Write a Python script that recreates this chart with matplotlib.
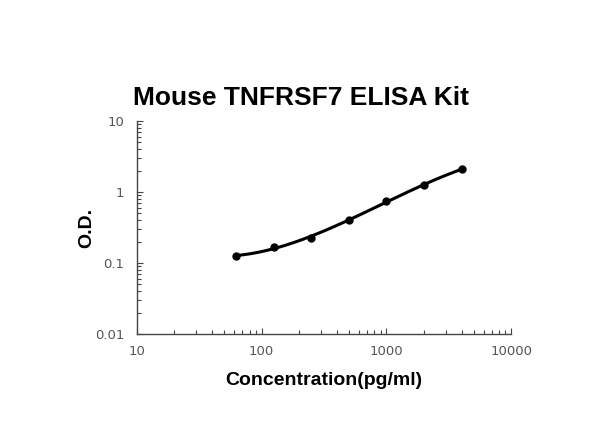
import numpy as np
import matplotlib
matplotlib.use("Agg")
import matplotlib.pyplot as plt
from matplotlib.ticker import LogLocator, FixedLocator, NullFormatter

# standard curve values
conc = [62.5, 125, 250, 500, 1000, 2000, 4000]
od = [0.126, 0.166, 0.226, 0.41, 0.745, 1.24, 2.11]
x_ticks = [10, 100, 1000, 10000]
x_tick_labels = ["10", "100", "1000", "10000"]
y_ticks = [0.01, 0.1, 1, 10]
y_tick_labels = ["0.01", "0.1", "1", "10"]

plt.rcParams['font.family'] = ['Liberation Sans', 'DejaVu Sans']

fig = plt.figure(figsize=(6, 4.47), dpi=100)
ax = fig.add_axes([0.228, 0.253, 0.624, 0.476])

# smooth fitted line in log-log space
lx = np.log10(conc)
ly = np.log10(od)
coef = np.polyfit(lx, ly, 3)
xs = np.linspace(lx[0], lx[-1], 200)
ax.plot(10 ** xs, 10 ** np.polyval(coef, xs), color='black', lw=2.2)
ax.plot(conc, od, 'o', color='black', ms=5)

ax.set_xscale('log')
ax.set_yscale('log')
ax.set_xlim(10, 10000)
ax.set_ylim(0.01, 10)

ax.xaxis.set_major_locator(FixedLocator(x_ticks))
ax.set_xticklabels(x_tick_labels, family='DejaVu Sans')
ax.yaxis.set_major_locator(FixedLocator(y_ticks))
ax.set_yticklabels(y_tick_labels, family='DejaVu Sans')
ax.xaxis.set_minor_locator(LogLocator(base=10, subs=np.arange(2, 10)))
ax.yaxis.set_minor_locator(LogLocator(base=10, subs=np.arange(2, 10)))
ax.xaxis.set_minor_formatter(NullFormatter())
ax.yaxis.set_minor_formatter(NullFormatter())

for s in ['top', 'right']:
    ax.spines[s].set_visible(False)
for s in ['left', 'bottom']:
    ax.spines[s].set_color('#444444')
    ax.spines[s].set_linewidth(1.0)

ax.tick_params(which='both', direction='in', color='#444444', labelsize=9.5,
               labelcolor='#555555')
ax.tick_params(which='major', length=4, width=0.8)
ax.tick_params(which='minor', length=3, width=0.8)
ax.tick_params(axis='x', pad=8)
ax.tick_params(axis='y', pad=9)

fig.suptitle("Mouse TNFRSF7 ELISA Kit", x=0.502, y=0.780, fontsize=19,
             fontweight='bold', va='center')
ax.set_xlabel("Concentration(pg/ml)", fontsize=14, fontweight='bold', labelpad=10)
ax.set_ylabel("O.D.", fontsize=14, fontweight='bold', labelpad=0)

fig.savefig("out.png", dpi=100, facecolor='white')
